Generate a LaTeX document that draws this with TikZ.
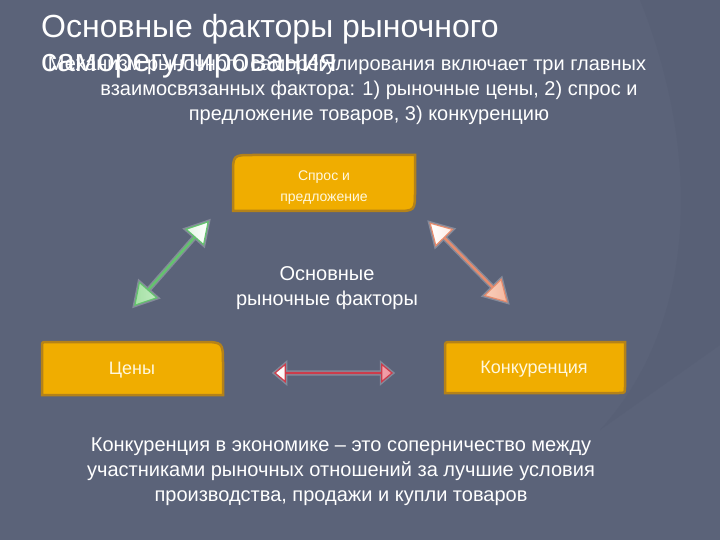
\documentclass[tikz,border=0pt]{standalone}
\usepackage{fontspec}
\setmainfont{Liberation Sans}
\usetikzlibrary{shapes.arrows}

\definecolor{slidebg}{RGB}{91,99,121}
\definecolor{slideshade}{RGB}{88,96,118}
\definecolor{boxfill}{RGB}{240,173,0}
\definecolor{boxedge}{RGB}{180,130,25}
\definecolor{boxtext}{RGB}{255,248,222}
\definecolor{greenedge}{RGB}{100,195,110}
\definecolor{greenfill}{RGB}{165,225,165}
\definecolor{peachedge}{RGB}{230,140,110}
\definecolor{peachfill}{RGB}{245,185,160}
\definecolor{rededge}{RGB}{205,60,75}
\definecolor{redfill}{RGB}{240,150,160}

\begin{document}
\begin{tikzpicture}[x=1pt,y=-1pt,
  factor/.style={fill=boxfill,draw=boxedge,line width=2.5pt},
  factortext/.style={text=boxtext,align=center,font=\fontsize{18}{21}\selectfont},
  slidetext/.style={text=white,align=center,font=\fontsize{20}{25}\selectfont},
  blockarrow/.style={double arrow,inner sep=0pt,line width=1.2pt,
    preaction={draw=white,draw opacity=0.25,line width=4pt}},
  greenlink/.style={blockarrow,draw=greenedge,left color=greenfill,right color=white,
    minimum width=6pt,double arrow head extend=11pt,double arrow tip angle=60},
  peachlink/.style={blockarrow,draw=peachedge,left color=white,right color=peachfill,
    minimum width=6pt,double arrow head extend=11pt,double arrow tip angle=60},
  redlink/.style={blockarrow,draw=rededge,left color=white,right color=redfill,
    minimum width=9pt,double arrow head extend=8pt,double arrow tip angle=80}]

  % slide background
  \fill[slidebg] (0,0) rectangle (720,540);
  \fill[slideshade] (640,0) .. controls (700,150) and (700,320) .. (600,430)
    -- (720,345) -- (720,0) -- cycle;
  \useasboundingbox (0,0) rectangle (720,540);

  % title and lead text (they overlap on the slide)
  \node[anchor=base west,inner sep=0pt,text=white,align=left,font=\fontsize{32}{34}\selectfont]
    (title) at (41,72) {Основные факторы рыночного\\саморегулирования};
  \node[slidetext,anchor=base] (lead) at (369,121)
    {\hspace*{-44pt}Механизм рыночного саморегулирования включает три главных\\
     взаимосвязанных фактора: 1) рыночные цены, 2) спрос и\\
     предложение товаров, 3) конкуренцию};

  % factor boxes
  \draw[factor] (233,211) -- (233,175) .. controls (233,155) .. (253,155)
    -- (415,155) -- (415,191) .. controls (415,211) .. (395,211) -- cycle;
  \draw[factor] (42,395) -- (42,347) .. controls (42,342) .. (47,342)
    -- (201,342) .. controls (223,342) .. (223,364) -- (223,395) -- cycle;
  \draw[factor] (445,393) -- (445,348) .. controls (445,342) .. (451,342)
    -- (625,342) -- (625,387) .. controls (625,393) .. (619,393) -- cycle;

  \node[factortext,font=\fontsize{14}{21}\selectfont] (demand) at (324,187.5) {Спрос и\\предложение};
  \node[factortext] (prices) at (132,370) {Цены};
  \node[factortext] (rivalry) at (534,369) {Конкуренция};

  % centre label
  \node[slidetext,anchor=base] (core) at (327,305) {Основные\\рыночные факторы};

  % links between the factors
  \node[greenlink,rotate=48.7,minimum height=111pt] (linkleft) at (171.5,263.5) {};
  \node[peachlink,rotate=-45.7,minimum height=110pt] (linkright) at (468.5,262.5) {};
  \node[redlink,minimum height=117pt] (linkbottom) at (333.5,373) {};

  % definition
  \node[slidetext,anchor=base] (definition) at (341,501)
    {Конкуренция в экономике – это соперничество между\\
     участниками рыночных отношений за лучшие условия\\
     производства, продажи и купли товаров};
\end{tikzpicture}
\end{document}
